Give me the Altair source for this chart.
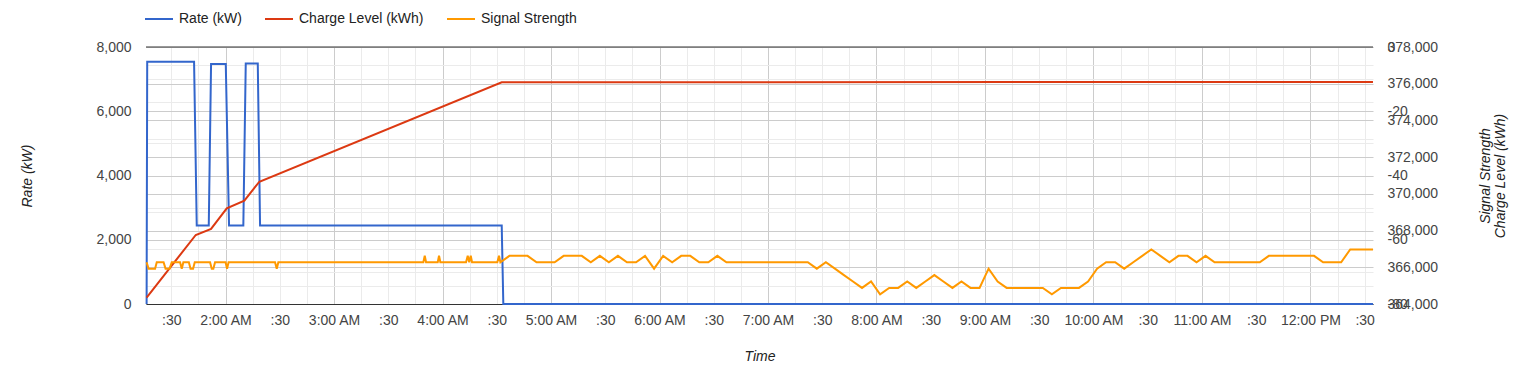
import altair as alt
import pandas as pd

DAY = "2024-01-01T"

# ---- Series data ----
rate_times = ["01:16:20", "01:16:40", "01:42:35", "01:44:04", "01:50:43", "01:51:59",
              "02:00:07", "02:01:56", "02:09:50", "02:11:10", "02:17:49", "02:19:05",
              "04:32:44", "04:33:37", "12:34:35"]
rate_values = [0, 7540, 7540, 2440, 2440, 7470, 7470, 2440, 2440, 7490, 7490, 2440,
               2440, 0, 0]

charge_times = ["01:16:20", "01:43:31", "01:51:59", "02:00:40", "02:10:24", "02:18:41",
                "04:32:44", "12:34:35"]
charge_values = [364350, 367760, 368090, 369210, 369630, 370660, 376080, 376100]

signal_times_early = ["01:16:20", "01:17:25", "01:21:01", "01:21:57", "01:25:43", "01:26:49",
                      "01:29:02", "01:30:15", "01:34:50", "01:35:47", "01:36:40", "01:39:42",
                      "01:40:38", "01:42:02", "01:42:58", "01:51:26", "01:52:22", "01:53:15",
                      "01:54:11", "02:00:00", "02:00:50", "02:01:40", "02:27:22", "02:28:19",
                      "02:29:12", "03:49:23", "03:50:10", "03:50:53", "03:57:21", "03:58:04",
                      "03:58:47", "04:13:00", "04:13:56", "04:14:46", "04:15:36", "04:16:19",
                      "04:30:18", "04:31:14"]
signal_values_early = [-67, -69, -69, -67, -67, -69,
                       -69, -67, -67, -69, -67, -67,
                       -69, -69, -67, -67, -69, -69,
                       -67, -67, -69, -67, -67, -69,
                       -67, -67, -65, -67, -67, -65,
                       -67, -67, -65, -67, -65, -67,
                       -67, -65]
# samples every 5 minutes from 04:32
signal_values_5min = [-67, -65, -65, -65, -67, -67, -67, -65, -65, -65,
                      -67, -65, -67, -65, -67, -67, -65, -69, -65, -67,
                      -65, -65, -67, -67, -65, -67, -67, -67, -67, -67,
                      -67, -67, -67, -67, -67, -69, -67, -69, -71, -73,
                      -75, -73, -77, -75, -75, -73, -75, -73, -71, -73,
                      -75, -73, -75, -75, -69, -73, -75, -75, -75, -75,
                      -75, -77, -75, -75, -75, -73, -69, -67, -67, -69,
                      -67, -65, -63, -65, -67, -65, -65, -67, -65, -67,
                      -67, -67, -67, -67, -67, -65, -65, -65, -65, -65,
                      -65, -67, -67, -67, -63, -63, -63]
signal_end_time = "12:34:35"
signal_end_value = -63

series_names = ["Rate (kW)", "Charge Level (kWh)", "Signal Strength"]
series_colors = ["#3366cc", "#dc3912", "#ff9900"]

# ---- Build tables ----
grid_times = [t.strftime("%H:%M:%S") for t in
              pd.date_range(DAY + "04:32:00", periods=len(signal_values_5min), freq="5min")]
signal_times = signal_times_early + grid_times + [signal_end_time]
signal_values = signal_values_early + signal_values_5min + [signal_end_value]

rate_df = pd.DataFrame({"t": [DAY + s for s in rate_times], "value": rate_values,
                        "series": series_names[0]})
charge_df = pd.DataFrame({"t": [DAY + s for s in charge_times], "value": charge_values,
                          "series": series_names[1]})
signal_df = pd.DataFrame({"t": [DAY + s for s in signal_times], "value": signal_values,
                          "series": series_names[2]})
base_df = pd.DataFrame({"v": [0]})

FONT = "Arial"


def dt(h, m, s=0):
    return alt.DateTime(year=2024, month=1, date=1, hours=h, minutes=m, seconds=s)


x_ticks = []
for k in range(45):
    mins = 90 + 15 * k
    x_ticks.append(dt(mins // 60, mins % 60))

x_enc = alt.X(
    "t:T",
    scale=alt.Scale(domain=[dt(1, 16, 0), dt(12, 34, 36)]),
    axis=alt.Axis(
        values=x_ticks,
        labelExpr="minutes(datum.value) == 30 ? ':30' : (minutes(datum.value) == 0 ? timeFormat(datum.value, '%-I:%M %p') : '')",
        labelOverlap=False,
        labelFlush=False,
        ticks=False,
        tickSize=0,
        labelPadding=9,
        grid=True,
        gridColor={"condition": {"test": "minutes(datum.value) == 0", "value": "#cccccc"},
                   "value": "#ebebeb"},
        domain=True,
        domainColor="#333333",
        title="Time",
        titleY=52,
        titleBaseline="middle",
    ),
)

color_enc = alt.Color(
    "series:N",
    scale=alt.Scale(domain=series_names, range=series_colors),
    legend=alt.Legend(
        orient="none", legendX=-2, legendY=-43, direction="horizontal", title=None,
        symbolType="stroke", symbolSize=784, symbolStrokeWidth=2,
        labelFontSize=14, labelColor="#222222", labelFont=FONT,
        columnPadding=19, labelOffset=5, padding=0,
    ),
)

# Minor grid layers
left_minor = alt.Chart(rate_df).mark_line(opacity=0).encode(
    x=x_enc,
    y=alt.Y("value:Q", scale=alt.Scale(domain=[0, 8000]),
            axis=alt.Axis(orient="left", values=[1000, 3000, 5000, 7000], labels=False,
                          ticks=False, domain=False, grid=True, gridColor="#ebebeb", title=None)),
)
charge_minor = alt.Chart(charge_df).mark_line(opacity=0).encode(
    x=x_enc,
    y=alt.Y("value:Q", scale=alt.Scale(domain=[364000, 378000]),
            axis=alt.Axis(orient="right", values=list(range(365000, 378000, 2000)), labels=False,
                          ticks=False, domain=False, grid=True, gridColor="#ebebeb", title=None)),
)

rate_line = alt.Chart(rate_df).mark_line(strokeWidth=2).encode(
    x=x_enc,
    y=alt.Y("value:Q", scale=alt.Scale(domain=[0, 8000]),
            axis=alt.Axis(orient="left", values=[0, 2000, 4000, 6000, 8000], format=",.0f",
                          grid=True, gridColor="#cccccc", domain=False, ticks=False, tickSize=0,
                          labelPadding=15, title="Rate (kW)", titleX=-119, titleY=128.5,
                          titleAngle=270, titleAlign="center", titleBaseline="middle")),
    color=color_enc,
)

charge_line = alt.Chart(charge_df).mark_line(strokeWidth=2).encode(
    x=x_enc,
    y=alt.Y("value:Q", scale=alt.Scale(domain=[364000, 378000]),
            axis=alt.Axis(orient="right", values=list(range(364000, 378001, 2000)), format=",.0f",
                          grid=True, gridColor="#cccccc", domain=False, ticks=False, tickSize=0,
                          labelPadding=14, title="Charge Level (kWh)", titleX=127, titleY=128.5,
                          titleAngle=270, titleAlign="center", titleBaseline="middle")),
    color=color_enc,
)

signal_line = alt.Chart(signal_df).mark_line(strokeWidth=2).encode(
    x=x_enc,
    y=alt.Y("value:Q", scale=alt.Scale(domain=[-80, 0]),
            axis=alt.Axis(orient="right", values=[-80, -60, -40, -20, 0],
                          labelExpr="'' + datum.value",
                          grid=False, domain=False, ticks=False, tickSize=0,
                          labelPadding=14, title="Signal Strength", titleX=112, titleY=128.5,
                          titleAngle=270, titleAlign="center", titleBaseline="middle")),
    color=color_enc,
)

top_base = alt.Chart(base_df).mark_rule(color="#333333", strokeWidth=1).encode(
    y=alt.Y("v:Q", scale=alt.Scale(domain=[-80, 0]), axis=None),
)

chart = alt.layer(
    left_minor, charge_minor, top_base, rate_line, charge_line, signal_line
).resolve_scale(
    y="independent"
).properties(
    width=1227, height=257,
    autosize=alt.AutoSizeParams(type="none"),
    padding={"left": 146, "top": 47, "right": 145, "bottom": 64},
).configure(
    font=FONT,
).configure_axis(
    labelFont=FONT, labelFontSize=14, labelColor="#444444",
    titleFont=FONT, titleFontSize=14, titleColor="#222222",
    titleFontStyle="italic", titleFontWeight="normal",
).configure_view(stroke=None)

chart.save("out.html", embed_options={"renderer": "svg", "actions": False})
